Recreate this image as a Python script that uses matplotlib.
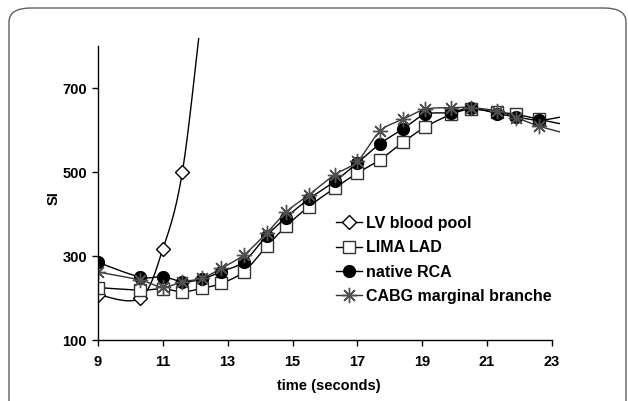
import numpy as np
import matplotlib
matplotlib.use("Agg")
import matplotlib.pyplot as plt
from matplotlib.patches import FancyBboxPatch

plt.rcParams['font.family'] = ['Liberation Sans', 'DejaVu Sans']
plt.rcParams['font.weight'] = 'bold'

# acquisition times (s)
t = [9.0, 10.3, 11.0, 11.6, 12.2, 12.8, 13.5, 14.2, 14.8, 15.5, 16.3, 17.0,
     17.7, 18.4, 19.1, 19.9, 20.5, 21.3, 21.9, 22.6, 23.3]

lv_t = [9.0, 10.3, 11.0, 11.6, 12.2, 12.8]
lv_blood_pool = [208, 200, 317, 500, 880, 1250]

lima_lad = [225, 219, 222, 215, 223, 235, 263, 323, 371, 418, 462, 498,
            530, 571, 608, 638, 650, 643, 638, 626, 615]
native_rca = [285, 250, 251, 239, 245, 263, 287, 348, 392, 436, 478, 522,
              568, 603, 638, 642, 654, 640, 632, 624, 632]
cabg_marginal = [262, 243, 226, 239, 247, 271, 303, 355, 405, 446, 494, 526,
                 598, 626, 650, 654, 654, 646, 630, 610, 595]

labels = ['LV blood pool', 'LIMA LAD', 'native RCA', 'CABG marginal branche']
xticks = [9, 11, 13, 15, 17, 19, 21, 23]
yticks = [100, 300, 500, 700]


def smooth(x, y, n=20):
    # excel style smoothed line (catmull-rom as bezier)
    x = np.asarray(x, float)
    y = np.asarray(y, float)
    p = np.column_stack([x, y])
    pts = []
    for i in range(len(p) - 1):
        p0 = p[i - 1] if i > 0 else p[i]
        p1 = p[i]
        p2 = p[i + 1]
        p3 = p[i + 2] if i + 2 < len(p) else p[i + 1]
        c1 = p1 + (p2 - p0) / 6
        c2 = p2 - (p3 - p1) / 6
        s = np.linspace(0, 1, n)[:, None]
        seg = ((1 - s) ** 3) * p1 + 3 * ((1 - s) ** 2) * s * c1 + 3 * (1 - s) * s ** 2 * c2 + s ** 3 * p2
        pts.append(seg if i == 0 else seg[1:])
    pts = np.vstack(pts)
    return pts[:, 0], pts[:, 1]


fig = plt.figure(figsize=(6.28, 4.01), dpi=100)
frame = FancyBboxPatch((9 / 628, -30 / 401), 617 / 628, (401 - 8 + 30) / 401,
                       boxstyle="round,pad=0,rounding_size=0.035",
                       transform=fig.transFigure, fill=False,
                       edgecolor='#606060', linewidth=1.0, clip_on=False)
fig.patches.append(frame)

ax = fig.add_axes([98 / 628, 61 / 401, 462 / 628, 302 / 401])

series = [
    (lv_t, lv_blood_pool, dict(marker='D', markersize=7, markerfacecolor='white',
                               markeredgecolor='black', color='black')),
    (t, lima_lad, dict(marker='s', markersize=8.5, markerfacecolor='white',
                       markeredgecolor='#333333', color='black')),
    (t, native_rca, dict(marker='o', markersize=8.5, markerfacecolor='black',
                         markeredgecolor='black', color='black')),
    (t, cabg_marginal, dict(marker=(8, 2, 0), markersize=11, markerfacecolor='none',
                            markeredgecolor='#505050', color='#333333')),
]

handles = []
for (xs, ys, st), lab in zip(series, labels):
    sx, sy = smooth(xs, ys)
    ax.plot(sx, sy, color=st['color'], linewidth=1.0)
    # markers only for points inside the x axis range
    mx = [a for a in xs if a <= 23]
    my = [b for a, b in zip(xs, ys) if a <= 23]
    ax.plot(mx, my, linestyle='none', marker=st['marker'], markersize=st['markersize'],
            markerfacecolor=st['markerfacecolor'], markeredgecolor=st['markeredgecolor'],
            markeredgewidth=1.0)
    h, = ax.plot([], [], color=st['color'], linewidth=1.0, marker=st['marker'],
                 markersize=st['markersize'], markerfacecolor=st['markerfacecolor'],
                 markeredgecolor=st['markeredgecolor'], label=lab)
    handles.append(h)

ax.set_xlim(9, 23.25)
ax.set_ylim(100, 820)
ax.spines['left'].set_bounds(100, 800)
ax.spines['bottom'].set_bounds(9, 23)
ax.spines['top'].set_visible(False)
ax.spines['right'].set_visible(False)
for sp in ('left', 'bottom'):
    ax.spines[sp].set_linewidth(1.0)
    ax.spines[sp].set_color('black')

ax.set_xticks(xticks)
ax.set_yticks(yticks)
ax.tick_params(direction='out', length=4, width=1, labelsize=10.5)
ax.tick_params(axis='x', pad=7)
ax.tick_params(axis='y', pad=4)
ax.patch.set_visible(False)

ax.set_xlabel('time (seconds)', fontsize=10.5, fontweight='bold', labelpad=7)
ax.set_ylabel('SI', fontsize=10.5, fontweight='bold')
ax.yaxis.set_label_coords(-0.08, 0.47)

ax.legend(handles=handles, loc='upper left', bbox_to_anchor=(238 / 462, 1 - 178 / 302),
          frameon=False, fontsize=11.5, handlelength=1.6, handletextpad=0.3,
          labelspacing=0.58, borderaxespad=0, borderpad=0)

fig.savefig('out.png', dpi=100)
